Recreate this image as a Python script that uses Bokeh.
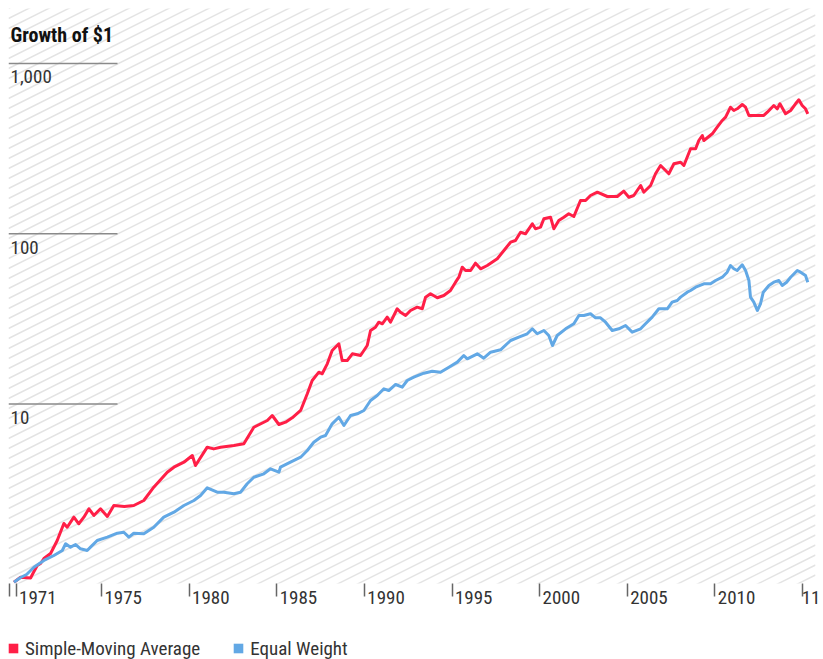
import math
from bokeh.plotting import figure
from bokeh.layouts import column
from bokeh.models import Range1d, FixedTicker, Legend, LegendItem
from bokeh.core.properties import value
from bokeh.embed import file_html
from bokeh.resources import INLINE

# ---------------- data ----------------
TITLE = "Growth of $1"
SERIES_NAMES = ["Simple-Moving Average", "Equal Weight"]
COLORS = ["#FF1F47", "#62A8E5"]

sma_years = [1970.00, 1970.38, 1970.95, 1971.12, 1971.33, 1971.52, 1971.71, 1972.09, 1972.47, 1972.85,
             1973.04, 1973.42, 1973.70, 1973.99, 1974.28, 1974.56, 1974.94, 1975.33, 1975.70, 1976.30,
             1976.84, 1977.41, 1977.98, 1978.75, 1979.13, 1979.70, 1980.18, 1980.36, 1981.03, 1981.40,
             1981.79, 1982.55, 1983.12, 1983.69, 1984.46, 1984.74, 1985.12, 1985.50, 1985.88, 1986.36,
             1986.74, 1987.02, 1987.40, 1987.59, 1987.88, 1988.16, 1988.54, 1988.73, 1989.02, 1989.31,
             1989.78, 1990.16, 1990.35, 1990.63, 1990.82, 1991.02, 1991.30, 1991.49, 1991.87, 1992.06,
             1992.35, 1992.63, 1993.01, 1993.30, 1993.49, 1993.77, 1994.16, 1994.53, 1994.91, 1995.20,
             1995.39, 1995.58, 1995.77, 1996.06, 1996.34, 1996.63, 1997.01, 1997.58, 1997.96, 1998.34,
             1998.62, 1998.91, 1999.19, 1999.58, 1999.76, 2000.05, 2000.24, 2000.62, 2000.81, 2001.09,
             2001.38, 2001.66, 2001.95, 2002.33, 2002.62, 2002.90, 2003.29, 2003.86, 2004.43, 2004.80,
             2005.09, 2005.37, 2005.76, 2005.94, 2006.33, 2006.61, 2006.90, 2007.37, 2007.66, 2008.04,
             2008.23, 2008.61, 2008.90, 2009.08, 2009.28, 2009.37, 2009.85, 2010.13, 2010.42, 2010.61,
             2010.89, 2011.08, 2011.27, 2011.56, 2011.75, 2011.94, 2012.79, 2012.99, 2013.36, 2013.56,
             2013.71, 2014.03, 2014.32, 2014.60, 2014.79, 2014.98, 2015.17, 2015.30]
sma_values = [0.898, 0.961, 0.951, 1.028, 1.126, 1.157, 1.237, 1.324, 1.579, 1.987,
              1.889, 2.164, 1.979, 2.164, 2.424, 2.214, 2.424, 2.184, 2.533, 2.50,
              2.533, 2.712, 3.246, 3.976, 4.254, 4.551, 4.983, 4.353, 5.577, 5.45,
              5.577, 5.705, 5.838, 7.305, 8.00, 8.56, 7.58, 7.82, 8.30, 9.16,
              11.48, 13.74, 15.38, 15.05, 17.22, 20.62, 22.57, 18.01, 18.01, 19.72,
              19.27, 22.06, 27.02, 28.25, 30.23, 29.59, 32.36, 30.23, 36.25, 34.61,
              33.10, 35.42, 37.04, 36.25, 42.41, 44.41, 42.06, 43.40, 46.42, 51.93,
              55.57, 63.62, 60.84, 60.84, 67.14, 62.26, 65.10, 71.29, 79.74, 89.2,
              91.3, 102.1, 99.9, 114.4, 106.9, 109.3, 122.4, 125.1, 106.9, 119.6,
              125.1, 131.0, 126.3, 156.8, 156.8, 167.8, 175.4, 165.5, 165.5, 177.8,
              163.9, 167.8, 192.1, 175.4, 192.1, 225.0, 251.7, 225.0, 257.6, 263.2,
              251.7, 315.5, 315.5, 353.0, 377.7, 353.0, 386.5, 422.6, 462.8, 483.9,
              553.8, 529.6, 542.0, 574.3, 553.8, 495.2, 495.2, 517.5, 566.6, 542.0,
              579.8, 506.6, 529.6, 579.8, 612.1, 566.6, 542.0, 506.6]

ew_years = [1970.00, 1970.38, 1970.72, 1971.14, 1971.71, 1972.28, 1972.76, 1972.95, 1973.23, 1973.52,
            1973.80, 1974.18, 1974.37, 1974.75, 1975.33, 1975.90, 1976.27, 1976.56, 1976.84, 1977.41,
            1977.98, 1978.55, 1979.13, 1979.70, 1980.27, 1980.65, 1981.03, 1981.60, 1981.98, 1982.55,
            1982.93, 1983.31, 1983.69, 1984.26, 1984.64, 1985.12, 1985.21, 1985.78, 1986.36, 1986.74,
            1987.11, 1987.50, 1987.78, 1988.16, 1988.54, 1988.83, 1989.21, 1989.59, 1989.97, 1990.35,
            1990.73, 1991.11, 1991.39, 1991.78, 1992.16, 1992.44, 1992.82, 1993.39, 1993.87, 1994.34,
            1994.82, 1995.30, 1995.67, 1995.87, 1996.44, 1996.81, 1997.20, 1997.77, 1998.34, 1998.81,
            1999.29, 1999.58, 1999.86, 2000.24, 2000.52, 2000.73, 2001.00, 2001.48, 2001.95, 2002.24,
            2002.52, 2002.90, 2003.19, 2003.47, 2003.76, 2004.14, 2004.52, 2004.90, 2005.28, 2005.76,
            2006.04, 2006.42, 2006.80, 2007.28, 2007.56, 2007.85, 2008.04, 2008.42, 2008.61, 2008.90,
            2009.37, 2009.75, 2010.04, 2010.42, 2010.70, 2010.89, 2011.08, 2011.27, 2011.56, 2011.75,
            2011.94, 2012.03, 2012.22, 2012.42, 2012.60, 2012.76, 2013.08, 2013.36, 2013.65, 2013.84,
            2014.09, 2014.32, 2014.70, 2014.89, 2015.17, 2015.30]
ew_values = [0.898, 0.957, 0.997, 1.100, 1.205, 1.289, 1.379, 1.510, 1.442, 1.495,
             1.411, 1.379, 1.442, 1.579, 1.651, 1.742, 1.766, 1.651, 1.742, 1.728,
             1.889, 2.164, 2.315, 2.533, 2.712, 2.902, 3.220, 3.033, 3.033, 2.968,
             3.033, 3.399, 3.715, 3.890, 4.163, 3.976, 4.254, 4.551, 4.870, 5.333,
             5.965, 6.383, 6.531, 7.648, 8.365, 7.474, 8.560, 8.758, 9.158, 10.49,
             11.22, 12.28, 12.00, 13.02, 12.55, 13.74, 14.37, 15.17, 15.58, 15.38,
             16.45, 17.61, 19.27, 18.43, 19.72, 18.58, 20.15, 20.82, 23.60, 24.69,
             25.85, 27.65, 25.85, 27.02, 25.26, 22.06, 25.26, 27.65, 29.59, 33.10,
             33.10, 33.87, 32.08, 32.08, 30.23, 27.02, 27.65, 28.91, 26.42, 27.65,
             29.59, 32.36, 36.25, 36.25, 39.63, 40.55, 42.41, 45.37, 46.42, 48.53,
             50.81, 50.81, 53.14, 55.57, 59.47, 65.10, 62.26, 60.84, 65.72, 60.84,
             53.14, 42.41, 39.63, 35.42, 38.77, 45.37, 49.66, 51.93, 53.14, 49.66,
             51.93, 55.57, 60.84, 59.47, 56.86, 51.93]

y_ticks = [10, 100, 1000]
y_tick_labels = ["10", "100", "1,000"]
x_tick_years = [1969.77, 1970.13, 1975, 1980, 1985, 1990, 1995, 2000, 2005, 2010, 2015]
x_tick_labels = ["", "1971", "1975", "1980", "1985", "1990", "1995", "2000", "2005", "2010", "11"]

# ---------------- layout constants ----------------
FONT = "'Liberation Sans Narrow', 'Roboto Condensed', 'Arial Narrow', Roboto, sans-serif"
FW, FH = 807, 575            # frame size in px
X0, X1 = 1969.69, 2015.74
Y0, Y1 = 0.8824, 2104.0
LT, LB = math.log10(Y1), math.log10(Y0)
PX_PER_YEAR = FW / (X1 - X0)
PX_PER_DECADE = FH / (LT - LB)


def dx(px):
    return X0 + px / FW * (X1 - X0)


def dy(py):
    return 10 ** (LT - py / FH * (LT - LB))


p = figure(width=820, height=615, y_axis_type="log",
           x_range=Range1d(X0, X1), y_range=Range1d(Y0, Y1),
           output_backend="svg", toolbar_location=None,
           min_border_left=8, min_border_right=5, min_border_top=8, min_border_bottom=32)
p.yaxis.visible = False
p.grid.visible = False
p.outline_line_color = None
p.background_fill_color = "white"
p.border_fill_color = "white"

# hatched background (diagonal lines across the plot frame)
slope = 0.5
spacing = 10.0
hx, hy = [], []
k = 0
while True:
    cpy = k * spacing
    if cpy - slope * FW > FH + spacing:
        break
    hx.append([dx(0), dx(FW)])
    hy.append([dy(cpy), dy(cpy - slope * FW)])
    k += 1
p.multi_line(hx, hy, line_color="#e3e3e3", line_width=1.4)

# short grid lines + y labels
p.segment(x0=[X0] * len(y_ticks), x1=[dx(109)] * len(y_ticks), y0=y_ticks, y1=y_ticks,
          line_color="#8a8a8a", line_width=1.5)
lab_y = [v * 10 ** (-13.5 / PX_PER_DECADE) for v in y_ticks]
p.text(x=[dx(2)] * len(y_ticks), y=lab_y, text=y_tick_labels, text_font=value(FONT),
       text_font_size="19px", text_color="#333333", text_baseline="alphabetic", text_align="left")

# title
p.text(x=[dx(2)], y=[dy(26.5)], text=[TITLE], text_font=value(FONT), text_font_size="20px",
       text_font_style="bold", text_color="#111111", text_baseline="alphabetic", text_align="left")

# series
p.line(sma_years, sma_values, line_color=COLORS[0], line_width=3, line_join="round")
p.line(ew_years, ew_values, line_color=COLORS[1], line_width=3, line_join="round")

# x axis: minor ticks are the visible tick marks, major (invisible) carry the labels to their right
label_pos = []
overrides = {}
for t, lab in zip(x_tick_years, x_tick_labels):
    if lab == "":
        continue
    w = len(lab) * 8.8
    pos = round(t + (4 + w / 2) / PX_PER_YEAR, 4)
    label_pos.append(pos)
    overrides[pos] = lab
ax = p.xaxis[0]
ax.ticker = FixedTicker(ticks=label_pos, minor_ticks=x_tick_years)
ax.major_label_overrides = overrides
ax.axis_line_color = None
ax.major_tick_line_color = None
ax.major_tick_out = 0
ax.major_tick_in = 0
ax.minor_tick_out = 13
ax.minor_tick_in = 0
ax.minor_tick_line_color = "#666666"
ax.minor_tick_line_width = 1.5
ax.major_label_standoff = -6
ax.major_label_text_font = FONT
ax.major_label_text_font_size = "19px"
ax.major_label_text_color = "#333333"

# ---------------- legend strip (separate small figure below) ----------------
q = figure(width=820, height=44, x_range=p.x_range, y_range=p.y_range, y_axis_type="log",
           output_backend="svg", toolbar_location=None,
           min_border_left=0, min_border_right=0, min_border_top=0, min_border_bottom=0)
q.axis.visible = False
q.grid.visible = False
q.outline_line_color = None
q.background_fill_color = "white"
q.border_fill_color = "white"
# invisible (size 0) square markers that only provide the legend swatches
k0 = q.scatter(sma_years, sma_values, marker="square", size=0, fill_color=COLORS[0], line_color=None)
k1 = q.scatter(ew_years, ew_values, marker="square", size=0, fill_color=COLORS[1], line_color=None)
legend = Legend(items=[LegendItem(label=SERIES_NAMES[0], renderers=[k0]),
                       LegendItem(label=SERIES_NAMES[1], renderers=[k1])],
                orientation="horizontal", location=(-7, -1), glyph_width=24, glyph_height=24,
                label_height=20, label_standoff=0, spacing=26, padding=0, margin=0,
                border_line_color=None, background_fill_alpha=0,
                label_text_font=FONT, label_text_font_size="19px", label_text_color="#333333")
q.add_layout(legend)

layout = column(p, q, spacing=0)
open("out.html", "w").write(file_html(layout, INLINE))
